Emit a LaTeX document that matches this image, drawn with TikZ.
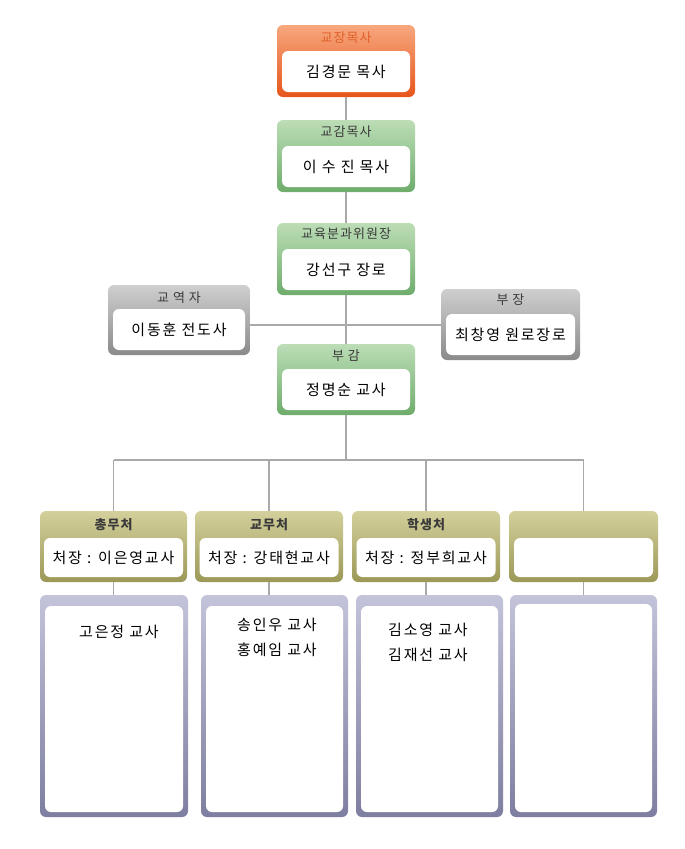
\documentclass[tikz,border=0pt]{standalone}
\usepackage{fontspec}
\setmainfont{Noto Sans CJK KR}
\newfontfamily\krname[LetterSpace=12]{Noto Sans CJK KR}
\newfontfamily\krhead[LetterSpace=8]{Noto Sans CJK KR}
\usetikzlibrary{positioning}

% --- colours ---
\definecolor{orangeT}{HTML}{F7A77E}
\definecolor{orangeB}{HTML}{E6561C}
\definecolor{orangeTxt}{HTML}{E0602C}
\definecolor{greenT}{HTML}{BCDDB6}
\definecolor{greenB}{HTML}{6FAD6C}
\definecolor{greyT}{HTML}{CFCFCF}
\definecolor{greyB}{HTML}{8A8A8A}
\definecolor{oliveT}{HTML}{D3D09C}
\definecolor{oliveB}{HTML}{9C9857}
\definecolor{lavT}{HTML}{C3C3DA}
\definecolor{lavB}{HTML}{7E7EA0}
\definecolor{headTxt}{HTML}{3A3A3A}
\definecolor{linkgray}{HTML}{A9A9A9}

\tikzset{
  outerbox/.style={rounded corners=6pt, inner sep=0pt, minimum width=138pt, minimum height=72pt},
  orangebox/.style={outerbox, top color=orangeT, bottom color=orangeB},
  greenbox/.style={outerbox, top color=greenT, bottom color=greenB},
  greybox/.style={outerbox, top color=greyT, bottom color=greyB, minimum height=70pt},
  olivebox/.style={outerbox, top color=oliveT, bottom color=oliveB, minimum width=148pt, minimum height=71pt},
  lavbox/.style={outerbox, top color=lavT, bottom color=lavB, minimum width=147pt, minimum height=222pt},
  innerbox/.style={fill=white, rounded corners=6pt, inner sep=0pt, minimum width=128pt, minimum height=41pt,
    font=\krname\fontsize{15}{18}\selectfont},
  headtext/.style={inner sep=0pt, text=headTxt, font=\krhead\fontsize{13}{15}\selectfont},
  listtext/.style={inner sep=0pt, anchor=north, align=center, font=\krname\fontsize{15}{25}\selectfont},
  link/.style={draw=linkgray, line width=1.2pt},
}

\begin{document}
\begin{tikzpicture}[x=1pt, y=-1pt]
    \useasboundingbox (0,0) rectangle (685,849);

    % --- 상단 세 개 ---
    \node[orangebox] (jang) at (346,61) {};
    \node[innerbox, above=5pt of jang.south] (jangIn) {김경문 목사};
    \node[headtext, text=orangeTxt] (jangHd) at (346,38) {교장목사};

    \node[greenbox] (gam) at (346,156) {};
    \node[innerbox, above=5pt of gam.south] (gamIn) {이 수 진 목사};
    \node[headtext] (gamHd) at (346,132) {교감목사};

    \node[greenbox] (bunkwa) at (346,259) {};
    \node[innerbox, above=5pt of bunkwa.south] (bunkwaIn) {강선구 장로};
    \node[headtext] (bunkwaHd) at (346,234) {교육분과위원장};

    % --- 좌우 ---
    \node[greybox, minimum width=142pt] (gyoyeok) at (179,320) {};
    \node[innerbox, minimum width=132pt, above=5pt of gyoyeok.south] (gyoyeokIn) {이동훈 전도사};
    \node[headtext] (gyoyeokHd) at (179,298) {교 역 자};

    \node[greybox, minimum width=139pt, minimum height=71pt] (bujang) at (510.5,324.5) {};
    \node[innerbox, minimum width=129pt, above=5pt of bujang.south] (bujangIn) {최창영 원로장로};
    \node[headtext] (bujangHd) at (510.5,300) {부 장};

    \node[greenbox, minimum height=71pt] (bugam) at (346,379.5) {};
    \node[innerbox, above=5pt of bugam.south] (bugamIn) {정명순 교사};
    \node[headtext] (bugamHd) at (346,356) {부 감};

    % --- 처 ---
    \node[olivebox, minimum width=147pt] (chongmu) at (113.5,546.5) {};
    \node[innerbox, minimum width=139pt, minimum height=39pt, above=5pt of chongmu.south] (chongmuIn) {처장 : 이은영교사};
    \node[headtext, font=\krhead\bfseries\fontsize{13}{15}\selectfont] (chongmuHd) at (113.5,525) {총무처};

    \node[olivebox] (gyomu) at (269,546.5) {};
    \node[innerbox, minimum width=139pt, minimum height=39pt, above=5pt of gyomu.south] (gyomuIn) {처장 : 강태현교사};
    \node[headtext, font=\krhead\bfseries\fontsize{13}{15}\selectfont] (gyomuHd) at (269,525) {교무처};

    \node[olivebox] (haksaeng) at (426,546.5) {};
    \node[innerbox, minimum width=139pt, minimum height=39pt, above=5pt of haksaeng.south] (haksaengIn) {처장 : 정부희교사};
    \node[headtext, font=\krhead\bfseries\fontsize{13}{15}\selectfont] (haksaengHd) at (426,525) {학생처};

    \node[olivebox, minimum width=149pt] (empty) at (583.5,546.5) {};
    \node[innerbox, minimum width=139pt, minimum height=39pt, above=5pt of empty.south] (emptyIn) {};

    % --- 소속 교사 ---
    \node[lavbox, minimum width=148pt] (chongmuList) at (114,706) {};
    \node[innerbox, minimum width=138pt, minimum height=206pt, above=5pt of chongmuList.south] (chongmuListIn) {};
    \node[listtext] (chongmuNames) at (119,625) {고은정 교사};

    \node[lavbox] (gyomuList) at (274.5,706) {};
    \node[innerbox, minimum width=137pt, minimum height=206pt, above=5pt of gyomuList.south] (gyomuListIn) {};
    \node[listtext] (gyomuNames) at (277,618) {송인우 교사\\홍예임 교사};

    \node[lavbox] (haksaengList) at (429.5,706) {};
    \node[innerbox, minimum width=137pt, minimum height=206pt, above=5pt of haksaengList.south] (haksaengListIn) {};
    \node[listtext] (haksaengNames) at (428,623) {김소영 교사\\김재선 교사};

    \node[lavbox] (emptyList) at (583.5,706) {};
    \node[innerbox, minimum width=137pt, minimum height=208pt, above=5pt of emptyList.south] (emptyListIn) {};

    % --- 연결선 ---
    \coordinate (hub) at (346,325);
    \coordinate (bar) at (346,460);
    \draw[link] (jang) -- (gam);
    \draw[link] (gam) -- (bunkwa);
    \draw[link] (bunkwa) -- (bugam);
    \draw[link] (gyoyeok.east |- hub) -- (bujang.west |- hub);
    \draw[link] (bugam.south) -- (bar);
    \draw[link] (chongmu.north |- bar) -- (empty.north |- bar);
    \foreach \b in {chongmu, gyomu, haksaeng, empty} {
        \draw[link] (\b.north) -- (\b.north |- bar);
        \draw[link] (\b.south) -- (\b.south |- \b List.north);
    }
\end{tikzpicture}
\end{document}
